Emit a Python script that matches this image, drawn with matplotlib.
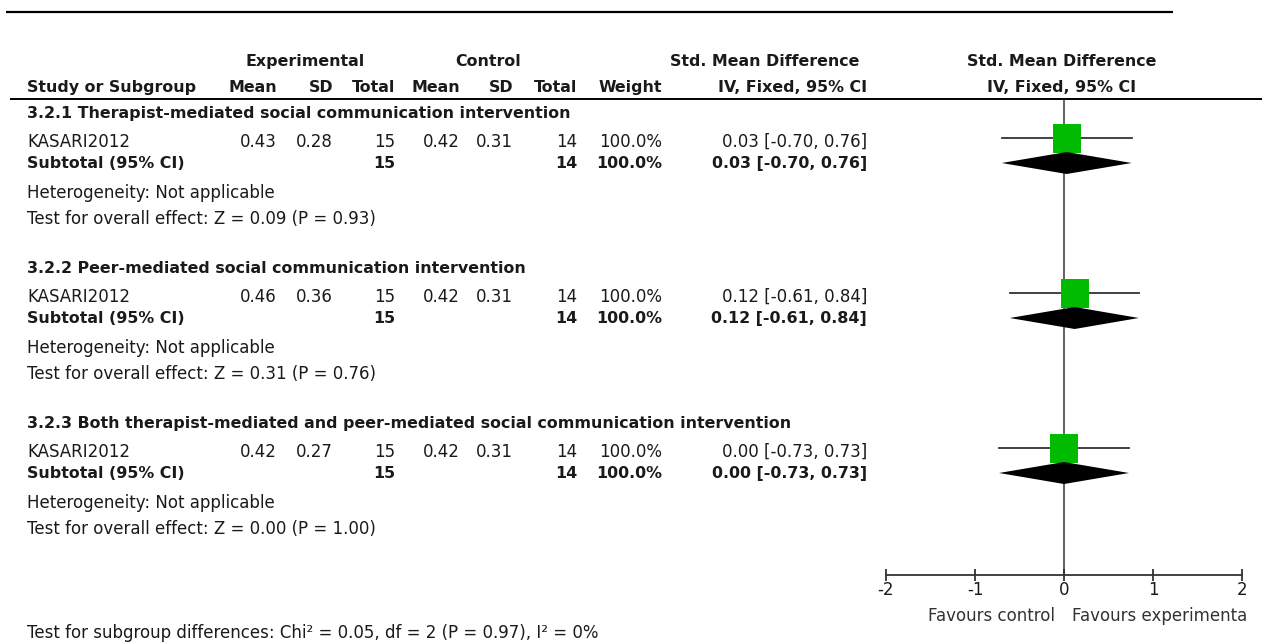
import matplotlib
matplotlib.use("Agg")
import matplotlib.pyplot as plt
from matplotlib.patches import Rectangle, Polygon

# ---------------- data ----------------
groups = ["3.2.1 Therapist-mediated social communication intervention",
          "3.2.2 Peer-mediated social communication intervention",
          "3.2.3 Both therapist-mediated and peer-mediated social communication intervention"]
studies = ["KASARI2012", "KASARI2012", "KASARI2012"]
exp_mean = [0.43, 0.46, 0.42]
exp_sd = [0.28, 0.36, 0.27]
exp_n = [15, 15, 15]
ctl_mean = [0.42, 0.42, 0.42]
ctl_sd = [0.31, 0.31, 0.31]
ctl_n = [14, 14, 14]
weights = [100.0, 100.0, 100.0]
smd = [0.03, 0.12, 0.00]
ci_lo = [-0.70, -0.61, -0.73]
ci_hi = [0.76, 0.84, 0.73]
z_vals = [0.09, 0.31, 0.00]
p_vals = [0.93, 0.76, 1.00]
ticks = [-2, -1, 0, 1, 2]
tick_labels = ["-2", "-1", "0", "1", "2"]
fav_left = "Favours control"
fav_right = "Favours experimenta"
subgroup_test = "Test for subgroup differences: Chi\u00b2 = 0.05, df = 2 (P = 0.97), I\u00b2 = 0%"

# ---------------- style ----------------
W, H = 1266, 644
REG = "DejaVu Sans"
BOLD = "DejaVu Sans"
FS = 12.0
FSB = 11.4
TXT = "#1a1a1a"
GREEN = "#00bb00"

fig = plt.figure(figsize=(W / 100, H / 100), dpi=100)
bg = fig.add_axes([0, 0, 1, 1])
bg.set_xlim(0, W)
bg.set_ylim(H, 0)
bg.axis("off")

def t(x, y, s, ha="left", bold=False, color=TXT):
    bg.text(x, y, s, ha=ha, va="center", color=color,
            fontsize=FSB if bold else FS,
            family=BOLD if bold else REG,
            fontweight="bold" if bold else "normal")

# top rules
bg.plot([6, 1173], [12, 12], color="black", lw=1.6, solid_capstyle="butt")
bg.plot([10, 1262], [99, 99], color="black", lw=1.4, solid_capstyle="butt")

# column right edges
LX = 27
cx = dict(em=277, esd=333, en=395, cm=460, csd=513, cn=577, w=662, ci=867)

# headers
t(305, 61, "Experimental", ha="center", bold=True)
t(488, 61, "Control", ha="center", bold=True)
t(765, 61, "Std. Mean Difference", ha="center", bold=True)
t(1062, 61, "Std. Mean Difference", ha="center", bold=True)
t(LX, 87, "Study or Subgroup", bold=True)
for key, lab in [("em", "Mean"), ("esd", "SD"), ("en", "Total"), ("cm", "Mean"),
                 ("csd", "SD"), ("cn", "Total"), ("w", "Weight"), ("ci", "IV, Fixed, 95% CI")]:
    t(cx[key], 87, lab, ha="right", bold=True)
t(1062, 87, "IV, Fixed, 95% CI", ha="center", bold=True)

# forest axes: -2 at x=886px, 2 at x=1242px; y in pixel rows 100..575
fx0, fx1, fy0, fy1 = 886, 1242, 100, 575
ax = fig.add_axes([fx0 / W, 1 - fy1 / H, (fx1 - fx0) / W, (fy1 - fy0) / H])
ax.set_xlim(-2, 2)
ax.set_ylim(fy1, fy0)
ax.patch.set_alpha(0)
for s in ["top", "left", "right"]:
    ax.spines[s].set_visible(False)
ax.spines["bottom"].set_linewidth(1.3)
ax.spines["bottom"].set_color("#333333")
ax.set_yticks([])
ax.set_xticks(ticks)
ax.set_xticklabels(tick_labels, family=REG, fontsize=FS, color=TXT)
ax.tick_params(axis="x", direction="inout", length=9, width=1.3, color="#333333", pad=0)
ax.axvline(0, color="#555555", lw=1.3, zorder=1)

px_per_unit = (fx1 - fx0) / 4.0
sq_w = 28 / px_per_unit
sq_h = 29

base = [113, 268, 423]
for i, g in enumerate(groups):
    y0 = base[i]
    t(LX, y0, g, bold=True)
    ys = y0 + 29
    t(LX, ys, studies[i])
    t(cx["em"], ys, f"{exp_mean[i]:.2f}", ha="right")
    t(cx["esd"], ys, f"{exp_sd[i]:.2f}", ha="right")
    t(cx["en"], ys, f"{exp_n[i]}", ha="right")
    t(cx["cm"], ys, f"{ctl_mean[i]:.2f}", ha="right")
    t(cx["csd"], ys, f"{ctl_sd[i]:.2f}", ha="right")
    t(cx["cn"], ys, f"{ctl_n[i]}", ha="right")
    t(cx["w"], ys, f"{weights[i]:.1f}%", ha="right")
    t(cx["ci"], ys, f"{smd[i]:.2f} [{ci_lo[i]:.2f}, {ci_hi[i]:.2f}]", ha="right")
    yt = y0 + 50
    t(LX, yt, "Subtotal (95% CI)", bold=True)
    t(cx["en"], yt, f"{exp_n[i]}", ha="right", bold=True)
    t(cx["cn"], yt, f"{ctl_n[i]}", ha="right", bold=True)
    t(cx["w"], yt, f"{weights[i]:.1f}%", ha="right", bold=True)
    t(cx["ci"], yt, f"{smd[i]:.2f} [{ci_lo[i]:.2f}, {ci_hi[i]:.2f}]", ha="right", bold=True)
    t(LX, y0 + 80, "Heterogeneity: Not applicable")
    t(LX, y0 + 106, f"Test for overall effect: Z = {z_vals[i]:.2f} (P = {p_vals[i]:.2f})")

    # forest marks
    yl = y0 + 25
    ax.plot([ci_lo[i], ci_hi[i]], [yl, yl], color="#333333", lw=1.3, zorder=2)
    ax.add_patch(Rectangle((smd[i] - sq_w / 2, yl - sq_h / 2), sq_w, sq_h,
                           facecolor=GREEN, edgecolor="none", zorder=3))
    yd = y0 + 50
    ax.add_patch(Polygon([(ci_lo[i], yd), (smd[i], yd - 11), (ci_hi[i], yd), (smd[i], yd + 11)],
                         closed=True, facecolor="black", edgecolor="none", zorder=4))

t(1055, 616, fav_left, ha="right", color="#333333")
t(1072, 616, fav_right, color="#333333")
t(LX, 633, subgroup_test)

fig.savefig("out.png", dpi=100)
